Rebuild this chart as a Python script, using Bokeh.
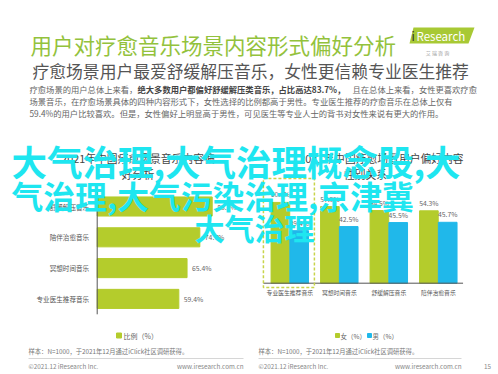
from bokeh.plotting import figure
from bokeh.models import Range1d
from bokeh.embed import file_html
from bokeh.resources import INLINE
from bokeh.core.properties import value

# ---------------- data ----------------
left_categories = ["舒缓解压音乐", "陪伴治愈音乐", "冥想时间音乐", "专业医生推荐音乐"]
left_values = [83.7, 74.7, 65.4, 59.4]

right_categories = ["专业医生推荐音乐", "冥想时间音乐", "舒缓解压音乐", "陪伴治愈音乐"]
female_values = [60.6, 57.5, 54.5, 54.3]
male_values = [39.4, 42.5, 45.5, 45.7]

title_text = "用户对疗愈音乐场景内容形式偏好分析"
subtitle_text = "疗愈场景用户最爱舒缓解压音乐，女性更信赖专业医生推荐"
para_line1 = ["疗愈场景的用户总体上来看，", "绝大多数用户都偏好舒缓解压类音乐，占比高达83.7%，", "且在总体上来看，女性更喜欢疗愈"]
para_line2 = "场景音乐，在疗愈场景具体的四种内容形式下，女性选择的比例都高于男性。专业医生推荐的疗愈音乐在总体上仅有"
para_line3 = "59.4%的用户比较喜欢。但是，女性偏好上明显高于男性，可见医生等专业人士的背书对女性来说有更大的作用。"
left_chart_title = ["2021年中国疗愈场景音乐内容偏", "好分析"]
right_chart_title = ["2021年中国疗愈场景用户偏好内容", "性别关系"]
overlay_lines = ["大气治理,大气治理概念股,大", "气治理,大气污染治理,京津冀", "大气治理"]
source_text = "样本：N=1000，于2021年12月通过iClick社区调研获得。"

GREEN = "#b4cc2c"
BLUE = "#20b8ea"
TITLE_GREEN = "#93c23c"
CYAN = "#1ee6f0"
FONT = "Noto Sans CJK SC"

p = figure(width=498, height=374, x_range=Range1d(0, 498), y_range=Range1d(374, 0),
           output_backend="svg", toolbar_location=None, min_border=0,
           x_axis_location=None, y_axis_location=None)
p.grid.visible = False
p.outline_line_color = None
p.background_fill_color = "white"
p.border_fill_color = "white"

# chart coordinate systems (library scales)
lx0, lk = 96.7, 1.374          # left chart: value -> px
ly0, ls = 206.0, 30.8          # left chart: category index -> px
rx0, rs = 289.3, 49.5          # right chart: group index -> px
ry0, rk = 282.7, 1.333         # right chart: value -> px
p.extra_x_ranges = {
    "lx": Range1d(-lx0 / lk, (498 - lx0) / lk),
    "rx": Range1d(-rx0 / rs, (498 - rx0) / rs),
}
p.extra_y_ranges = {
    "ly": Range1d((374 - ly0) / ls, -ly0 / ls),
    "ry": Range1d((ry0 - 374) / rk, ry0 / rk),
}

def txt(x, y, t, size, color="#555555", align="left", baseline="middle", bold=False, **kw):
    p.text(x=[x], y=[y], text=[t], text_font=value(FONT), text_font_size=size,
           text_color=color, text_align=align, text_baseline=baseline,
           text_font_style="bold" if bold else "normal", **kw)

# ---------------- header ----------------
txt(30, 44, title_text, "21.5px", TITLE_GREEN)
p.patch(x=[413, 474, 468, 409], y=[27, 27, 43, 43], fill_color="#a8c934", line_color=None)
txt(411, 35, "i", "12px", "#333333")
txt(416, 35, "Research", "11.5px", "white")
txt(442, 52, "艾    瑞    咨    询", "5px", "#999999", align="center")
txt(32, 70, subtitle_text, "16.8px", "#555555")

txt(29, 88, para_line1[0], "8.3px", "#666666")
txt(137, 88, para_line1[1], "8.3px", "#444444", bold=True)
txt(352, 88, para_line1[2], "8.3px", "#666666")
txt(29, 100, para_line2, "8.3px", "#666666")
txt(29, 112, para_line3, "8.3px", "#666666")

# ---------------- left chart ----------------
txt(137.5, 157, left_chart_title[0], "10.8px", "#444444", align="center")
txt(137.5, 173, left_chart_title[1], "10.8px", "#444444", align="center")
lidx = list(range(len(left_categories)))
p.hbar(y=lidx, left=0, right=left_values, height=0.62, color=GREEN,
       x_range_name="lx", y_range_name="ly")
p.segment(x0=[0], y0=[-0.5], x1=[0], y1=[3.5], line_color="#555555", line_width=1,
          x_range_name="lx", y_range_name="ly")
p.text(x=[0] * 4, y=lidx, text=left_categories, x_offset=-8, text_align="right",
       text_baseline="middle", text_font=value(FONT), text_font_size="6.6px",
       text_color="#555555", x_range_name="lx", y_range_name="ly")
p.text(x=left_values, y=lidx, text=[f"{v}%" for v in left_values], x_offset=5,
       text_align="left", text_baseline="middle", text_font=value(FONT),
       text_font_size="6.8px", text_color="#666666", x_range_name="lx", y_range_name="ly")
p.rect(x=[118.5], y=[335], width=5, height=5, color=GREEN)
txt(123, 335, "比例（%）", "7px", "#666666")

# ---------------- right chart ----------------
txt(381, 157, right_chart_title[0], "10.8px", "#444444", align="center")
txt(365, 173, right_chart_title[1], "10.8px", "#444444", align="center")
ridx = list(range(len(right_categories)))
off = 0.19
p.vbar(x=[i - off for i in ridx], bottom=0, top=female_values, width=0.377, color=GREEN,
       x_range_name="rx", y_range_name="ry")
p.vbar(x=[i + off for i in ridx], bottom=0, top=male_values, width=0.377, color=BLUE,
       x_range_name="rx", y_range_name="ry")
p.segment(x0=[-0.533], y0=[0], x1=[3.5], y1=[0], line_color="#555555", line_width=1,
          x_range_name="rx", y_range_name="ry")
p.text(x=[i - off for i in ridx], y=female_values, text=[f"{v}%" for v in female_values],
       y_offset=-3, text_align="center", text_baseline="bottom", text_font=value(FONT),
       text_font_size="6.8px", text_color="#666666", x_range_name="rx", y_range_name="ry")
p.text(x=[i + off for i in ridx], y=male_values, text=[f"{v}%" for v in male_values],
       y_offset=-3, text_align="center", text_baseline="bottom", text_font=value(FONT),
       text_font_size="6.8px", text_color="#666666", x_range_name="rx", y_range_name="ry")
p.text(x=ridx, y=[0] * 4, text=right_categories, y_offset=9, text_align="center",
       text_baseline="middle", text_font=value(FONT), text_font_size="5.8px",
       text_color="#555555", x_range_name="rx", y_range_name="ry")
p.quad(left=[-0.533], right=[0.497], top=[78.5], bottom=[-3.2], fill_color=None,
       line_color="#c8d44a", line_dash="3 2", line_width=1.5,
       x_range_name="rx", y_range_name="ry")
p.rect(x=[337], y=[335], width=4, height=4, color=GREEN)
txt(340, 335, "女（%）", "6.5px", "#666666")
p.rect(x=[369], y=[335], width=4, height=4, color=BLUE)
txt(372, 335, "男（%）", "6.5px", "#666666")

# ---------------- footer ----------------
txt(28, 351, source_text, "6.3px", "#777777")
txt(258, 351, source_text, "6.3px", "#777777")
p.segment(x0=[28, 258], y0=[358, 358], x1=[243, 461], y1=[358, 358], line_color="#cccccc", line_width=0.8)
txt(28, 366, "©2021.12 iResearch Inc.", "6.3px", "#888888")
txt(243, 366, "www.iresearch.com.cn", "6.3px", "#888888", align="right")
txt(258, 366, "©2021.12 iResearch Inc.", "6.3px", "#888888")
txt(461, 366, "www.iresearch.com.cn", "6.3px", "#888888", align="right")
txt(487, 366, "15", "6.3px", "#888888", align="center")

# ---------------- overlay ----------------
txt(11, 160, overlay_lines[0], "35.5px", CYAN, bold=True)
txt(11, 194, overlay_lines[1], "31.8px", CYAN, bold=True)
txt(254, 226, overlay_lines[2], "30px", CYAN, align="center", bold=True)

open("out.html", "w").write(file_html(p, INLINE))
